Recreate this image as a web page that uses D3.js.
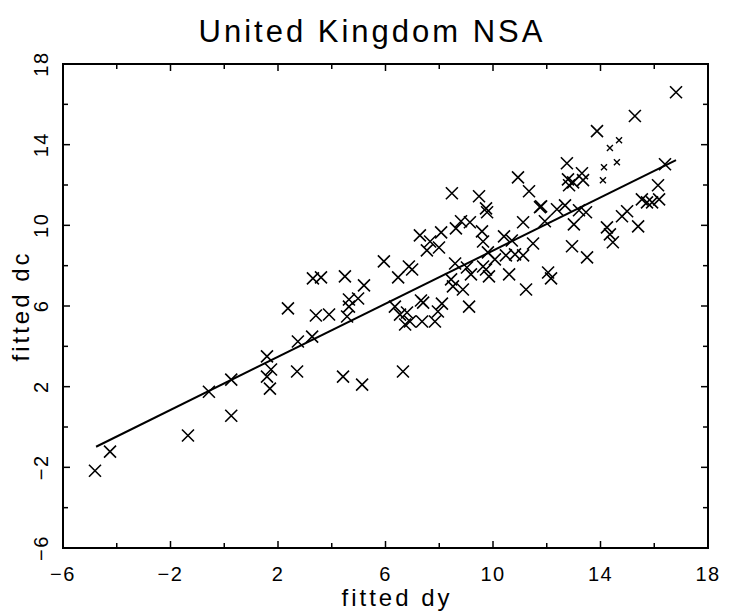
<!DOCTYPE html>
<html>
<head>
<meta charset="utf-8">
<script src="https://cdn.jsdelivr.net/npm/d3@7"></script>
<style>
  body { margin: 0; background: #fff; }
  text { font-family: "Liberation Sans", "DejaVu Sans", sans-serif; fill: #000; }
</style>
</head>
<body>
<svg id="chart" width="730" height="611"></svg>
<script>
// fitted dy (x) and fitted dc (y)
var dy = [-4.81,-4.25,-1.35,0.26,-0.57,0.26,1.70,1.59,1.74,1.59,2.71,2.74,3.27,4.42,5.13,
  2.37,3.30,3.60,4.49,5.20,5.94,6.47,3.41,3.90,4.64,4.98,4.64,4.57,6.65,6.35,6.54,6.73,
  6.87,6.99,7.32,7.40,7.28,8.07,8.62,8.81,9.14,9.59,9.63,7.66,7.99,7.54,8.47,9.48,9.74,
  9.78,10.93,11.34,11.79,12.38,11.93,11.12,10.41,10.70,11.49,9.81,10.48,10.82,11.12,10.07,
  8.59,9.03,9.18,9.63,9.74,9.85,10.60,12.05,12.16,11.23,8.44,8.51,8.88,9.11,8.10,6.80,
  6.91,7.36,7.84,7.95,16.81,15.28,13.87,12.75,13.31,12.79,12.98,13.35,12.83,16.14,16.18,
  15.92,15.54,15.73,14.99,14.80,15.40,14.24,14.35,14.46,12.94,13.50,13.01,12.68,13.20,
  13.46,11.75,16.40];
var dc = [-2.17,-1.22,-0.42,0.56,1.75,2.35,1.90,2.50,2.85,3.50,2.75,4.24,4.48,2.50,2.10,
  5.88,7.37,7.42,7.47,7.02,8.21,7.42,5.53,5.58,6.32,6.37,5.97,5.48,2.75,5.97,5.57,5.08,
  7.96,7.81,6.27,6.17,9.50,9.65,9.85,10.20,10.15,9.70,9.20,9.20,8.90,8.76,11.59,11.44,10.84,
  10.65,12.38,11.69,10.94,10.80,10.20,10.15,9.45,9.25,9.10,8.66,8.51,8.56,8.51,8.31,
  8.11,7.91,7.57,7.96,7.81,7.47,7.57,7.66,7.37,6.82,7.32,6.97,6.82,5.97,6.12,5.68,
  5.23,5.23,5.23,5.73,16.60,15.42,14.67,13.08,12.58,12.28,12.13,12.24,11.99,11.99,11.29,
  11.14,11.29,11.14,10.70,10.45,9.95,9.90,9.55,9.16,8.96,8.41,10.05,10.99,10.75,
  10.65,10.90,13.03];
// faint small marks near the top right
var smallDy = [14.35, 14.69, 14.61, 14.13, 14.09];
var smallDc = [13.83, 14.22, 13.13, 12.88, 12.24];
// fitted line end points
var lineDy = [-4.77, 16.81];
var lineDc = [-0.98, 13.23];
var ticks = [-6, -2, 2, 6, 10, 14, 18];

var svg = d3.select("#chart");
var mLeft = 63, mRight = 708, mTop = 64, mBottom = 548;

var x = d3.scaleLinear().domain([-6, 18]).range([mLeft, mRight]);
var y = d3.scaleLinear().domain([-6, 18]).range([mBottom, mTop]);
var minor = d3.range(-6, 19, 2);
var fmt = d => d < 0 ? "\u2212" + Math.abs(d) : "" + d;

// frame
svg.append("rect")
    .attr("x", mLeft).attr("y", mTop)
    .attr("width", mRight - mLeft).attr("height", mBottom - mTop)
    .attr("fill", "none").attr("stroke", "#000").attr("stroke-width", 2);

// inward ticks on all four sides
var tickLen = d => ticks.indexOf(d) >= 0 ? 7 : 5;
var tk = svg.append("g").attr("stroke", "#000").attr("stroke-width", 1.5);
minor.forEach(d => {
    tk.append("line").attr("x1", x(d)).attr("x2", x(d)).attr("y1", mBottom).attr("y2", mBottom - tickLen(d));
    tk.append("line").attr("x1", x(d)).attr("x2", x(d)).attr("y1", mTop).attr("y2", mTop + tickLen(d));
    tk.append("line").attr("y1", y(d)).attr("y2", y(d)).attr("x1", mLeft).attr("x2", mLeft + tickLen(d));
    tk.append("line").attr("y1", y(d)).attr("y2", y(d)).attr("x1", mRight).attr("x2", mRight - tickLen(d));
});

// tick labels
svg.append("g").selectAll("text").data(ticks).enter().append("text")
    .attr("x", d => x(d)).attr("y", 581)
    .attr("text-anchor", "middle").attr("font-size", 20).attr("letter-spacing", 1.5)
    .text(fmt);
svg.append("g").selectAll("text").data(ticks).enter().append("text")
    .attr("transform", d => "translate(48," + y(d) + ") rotate(-90)")
    .attr("text-anchor", "middle").attr("font-size", 20).attr("letter-spacing", 1.5)
    .text(fmt);

// titles
svg.append("text").attr("x", 372).attr("y", 42)
    .attr("text-anchor", "middle").attr("font-size", 31).attr("letter-spacing", 3)
    .text("United Kingdom NSA");
svg.append("text").attr("x", 397).attr("y", 606)
    .attr("text-anchor", "middle").attr("font-size", 24).attr("letter-spacing", 3)
    .text("fitted dy");
svg.append("text").attr("transform", "translate(29,306) rotate(-90)")
    .attr("text-anchor", "middle").attr("font-size", 24).attr("letter-spacing", 3)
    .text("fitted dc");

// fitted line
svg.append("path")
    .datum(d3.zip(lineDy, lineDc))
    .attr("d", d3.line().x(d => x(d[0])).y(d => y(d[1])))
    .attr("stroke", "#000").attr("stroke-width", 2).attr("fill", "none");

// crosses
function cross(px, py, s) {
    return "M" + (px - s) + "," + (py - s) + "L" + (px + s) + "," + (py + s) +
        "M" + (px - s) + "," + (py + s) + "L" + (px + s) + "," + (py - s);
}
svg.append("g").selectAll("path").data(d3.zip(dy, dc)).enter().append("path")
    .attr("d", d => cross(x(d[0]), y(d[1]), 6))
    .attr("stroke", "#000").attr("stroke-width", 1.6).attr("fill", "none");
svg.append("g").selectAll("path").data(d3.zip(smallDy, smallDc)).enter().append("path")
    .attr("d", d => cross(x(d[0]), y(d[1]), 3))
    .attr("stroke", "#000").attr("stroke-width", 1.4).attr("fill", "none");
</script>
</body>
</html>
